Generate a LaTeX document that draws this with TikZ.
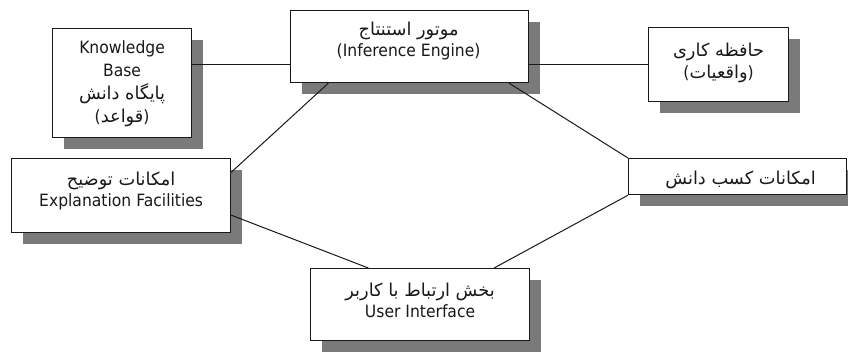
\documentclass[tikz,border=0pt]{standalone}
\usepackage{fontspec}
\setmainfont[FakeStretch=0.92]{DejaVu Sans}
\newfontfamily\fa[Script=Arabic,Scale=1.05]{DejaVu Sans}
\TeXXeTstate=1
\usetikzlibrary{calc,shadows}
\definecolor{shade}{RGB}{122,122,122}
\definecolor{ink}{RGB}{25,25,25}
\tikzset{
  box/.style={draw=ink, line width=1.2bp, fill=white, inner sep=0pt, anchor=north west,
    drop shadow={shadow xshift=11.5bp, shadow yshift=-11.5bp, fill=shade, opacity=1}},
  txt/.style={align=center, font=\fontsize{17}{21}\selectfont, text=ink, inner sep=0pt},
  link/.style={draw=ink, line width=1bp},
}
\newcommand{\fatext}[1]{{\fa\beginR #1\endR}}
\begin{document}
\begin{tikzpicture}[x=1bp,y=-1bp]
\useasboundingbox[fill=white] (0,0) rectangle (848,351);
% boxes
\node[box, minimum width=139bp, minimum height=109bp] (kb) at (52,28) {};
\node[box, minimum width=238bp, minimum height=72bp] (ie) at (290,10) {};
\node[box, minimum width=140bp, minimum height=74bp] (wm) at (648,27) {};
\node[box, minimum width=219bp, minimum height=74bp] (ex) at (11,158) {};
\node[box, minimum width=218bp, minimum height=36bp] (ka) at (628,158) {};
\node[box, minimum width=219bp, minimum height=72bp] (ui) at (310,268) {};
% texts
\node[txt, font=\fontsize{17}{23}\selectfont] (kbt) at ($(kb.center)+(0,1)$)
  {Knowledge\\Base\\\fatext{پایگاه دانش}\\({\fa\beginR قواعد\endR})};
\node[txt] (iet) at ($(ie.center)+(-1,-6)$)
  {\fatext{موتور استنتاج}\\(Inference Engine)};
\node[txt, font=\fontsize{17}{22}\selectfont] (wmt) at ($(wm.center)+(0,-2)$)
  {\fatext{حافظه کاری}\\({\fa\beginR واقعیات\endR})};
\node[txt] (ext) at ($(ex.center)+(0,-5)$)
  {\fatext{امکانات توضیح}\\Explanation Facilities};
\node[txt] (kat) at ($(ka.center)+(3,3)$)
  {\fatext{امکانات کسب دانش}};
\node[txt] (uit) at ($(ui.center)+(0,-4)$)
  {\fatext{بخش ارتباط با کاربر}\\User Interface};
% connectors
\draw[link] (kb.east |- wm.west) -- (ie.west |- wm.west);
\draw[link] (ie.east |- wm.west) -- (wm.west);
\draw[link] ($(ie.south west)!0.16!(ie.south east)$) -- ($(ex.north east)!0.19!(ex.south east)$);
\draw[link] ($(ie.south west)!0.916!(ie.south east)$) -- (ka.north west);
\draw[link] ($(ex.north east)!0.76!(ex.south east)$) -- ($(ui.north west)!0.265!(ui.north east)$);
\draw[link] (ka.south west) -- ($(ui.north west)!0.836!(ui.north east)$);
\end{tikzpicture}
\end{document}
